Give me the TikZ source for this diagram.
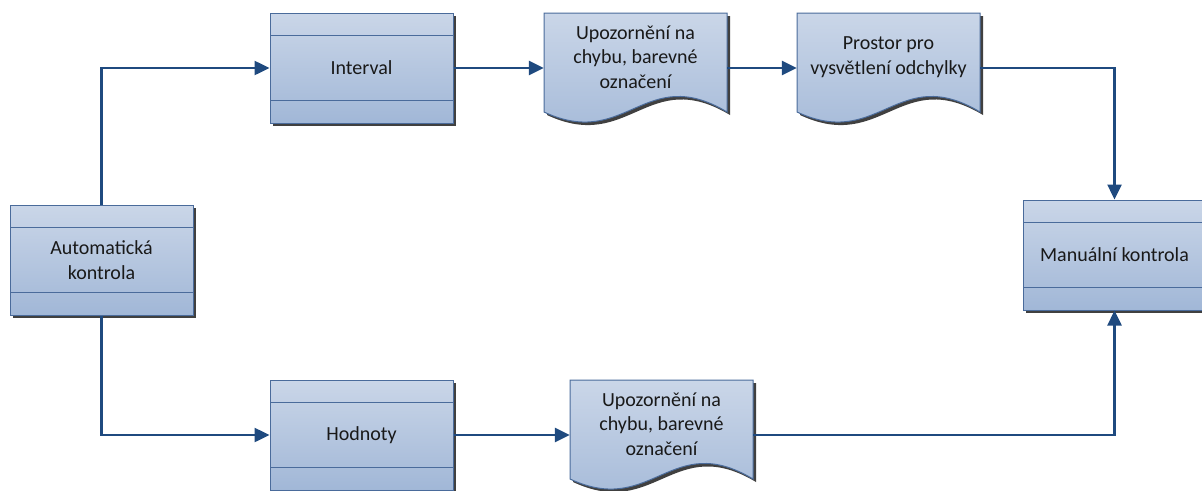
\documentclass[tikz,border=0pt]{standalone}
\usepackage{fontspec}
\setmainfont{Carlito}
\usepackage{tikz}
\usetikzlibrary{calc,shadows,arrows.meta}

\definecolor{boxtop}{HTML}{CAD6E8}
\definecolor{boxbot}{HTML}{A1B7D7}
\definecolor{boxline}{HTML}{4A6B9B}
\definecolor{flowcol}{HTML}{1F4A7F}
\definecolor{shadowcol}{HTML}{404040}

\tikzset{
  procbox/.style={draw=boxline, line width=1pt, top color=boxtop, bottom color=boxbot,
    minimum width=183pt, minimum height=110pt, inner sep=0pt, align=center,
    font=\fontsize{20}{24.5}\selectfont, text=black!90,
    drop shadow={shadow xshift=3pt, shadow yshift=-3pt, opacity=1, fill=shadowcol},
    path picture={\draw[boxline, line width=1pt]
      ([yshift=-22pt]path picture bounding box.north west) -- ([yshift=-22pt]path picture bounding box.north east)
      ([yshift=23pt]path picture bounding box.south west) -- ([yshift=23pt]path picture bounding box.south east);}},
  docbox/.style={minimum width=183pt, minimum height=110pt, inner sep=0pt},
  doctext/.style={align=center, font=\fontsize{20}{24.5}\selectfont, text=black!90},
  flow/.style={draw=flowcol, line width=2.5pt, -{Triangle[length=15pt,width=14pt]}}
}

% document shape, 183 x 110
\newcommand{\docwave}{(0,0) -- (183,0) -- (183,99) .. controls (100.65,49.5) and (82.35,137.5) .. (0,99) -- cycle}
\newcommand{\docshape}[4]{%
  \begin{scope}[shift={(#2,#3)}]
    \fill[shadowcol, shift={(3,3)}] \docwave;
    \draw[boxline, line width=1pt, top color=boxtop, bottom color=boxbot] \docwave;
    \node[docbox] (#1) at (91.5,55) {};
    \node[doctext] (#1txt) at (91.5,44) {#4};
  \end{scope}}

\begin{document}
\begin{tikzpicture}[x=1pt,y=-1pt]
\useasboundingbox (0,0) rectangle (1202,490);

\node[procbox] (auto) at (101.5,260) {Automatická\\kontrola};
\node[procbox] (interval) at (361.5,68) {Interval};
\node[procbox] (hodnoty) at (361.5,435) {Hodnoty};
\node[procbox] (manual) at (1114.5,255) {Manuální kontrola};

\docshape{doca}{544}{13}{Upozornění na\\chybu, barevné\\označení}
\docshape{docb}{797}{13}{Prostor pro\\vysvětlení odchylky}
\docshape{docc}{570}{380}{Upozornění na\\chybu, barevné\\označení}

\draw[flow] (auto.north) |- (interval.west);
\draw[flow] (interval.east) -- (doca.west);
\draw[flow] (doca.east) -- (docb.west);
\draw[flow] (docb.east) -| (manual.north);
\draw[flow] (auto.south) |- (hodnoty.west);
\draw[flow] (hodnoty.east) -- (docc.west);
\draw[flow] (docc.east) -| (manual.south);
\end{tikzpicture}
\end{document}
